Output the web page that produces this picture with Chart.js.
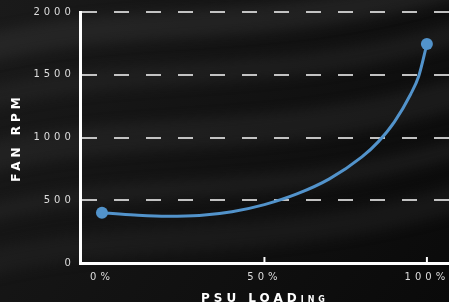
<!DOCTYPE html>
<html>
<head>
<meta charset="utf-8">
<script src="https://cdn.jsdelivr.net/npm/chart.js@4/dist/chart.umd.min.js"></script>
<style>
html, body { margin: 0; padding: 0; background: #111; }
#wrap { width: 449px; height: 302px; position: relative; }
</style>
</head>
<body>
<div id="wrap"><canvas id="myChart"></canvas></div>
<script>
// PSU load (%) vs fan speed (rpm)
var loadPct = [0, 10, 20, 30, 40, 50, 60, 70, 80, 85, 90, 95, 97.5, 100];
var fanRpm = [400, 382, 372, 378, 408, 465, 550, 670, 845, 965, 1125, 1345, 1490, 1745];
var rpmTicks = [0, 500, 1000, 1500, 2000];
var loadTicks = [0, 50, 100];

var lineColor = "#5293cb";
var fontFamily = "'DejaVu Sans', sans-serif";

// dark silky background
var bgPlugin = {
    id: "bg",
    beforeDraw: function(chart){
        var ctx = chart.ctx;
        var w = chart.width, h = chart.height;
        ctx.save();
        var g = ctx.createLinearGradient(0, 0, w, h);
        g.addColorStop(0, "#1a1a1a");
        g.addColorStop(0.5, "#121212");
        g.addColorStop(1, "#0a0a0a");
        ctx.fillStyle = g;
        ctx.fillRect(0, 0, w, h);
        ctx.filter = "blur(6px)";
        ctx.lineCap = "round";
        var bands = [[20, 28, "rgba(60,60,60,0.35)"], [70, 22, "rgba(45,45,45,0.4)"], [130, 30, "rgba(55,55,55,0.3)"],
                     [185, 18, "rgba(50,50,50,0.35)"], [235, 26, "rgba(40,40,40,0.4)"]];
        bands.forEach(function(b){
            ctx.strokeStyle = b[2];
            ctx.lineWidth = b[1];
            ctx.beginPath();
            ctx.moveTo(-20, b[0] + 30);
            ctx.bezierCurveTo(w * 0.3, b[0] - 10, w * 0.6, b[0] + 20, w + 20, b[0] - 40);
            ctx.stroke();
        });
        ctx.restore();
        ctx.letterSpacing = "4px";
    },
    beforeLayout: function(chart){
        chart.ctx.letterSpacing = "4px";
    }
};

// small upward tick marks on the x axis
var xTickPlugin = {
    id: "xTicks",
    afterDraw: function(chart){
        var xs = chart.scales.x;
        var ctx = chart.ctx;
        var base = chart.chartArea.bottom;
        ctx.save();
        ctx.strokeStyle = "#ffffff";
        ctx.lineWidth = 2;
        loadTicks.forEach(function(v){
            if (v === 0) return;
            var px = xs.getPixelForValue(v);
            ctx.beginPath();
            ctx.moveTo(px, base);
            ctx.lineTo(px, base - 6);
            ctx.stroke();
        });
        ctx.restore();
    }
};

function showChart(){
    var points = loadPct.map(function(v, i){ return { x: v, y: fanRpm[i] }; });
    var radii = loadPct.map(function(v, i){ return (i === 0 || i === loadPct.length - 1) ? 6 : 0; });

    new Chart("myChart", {
        type: "line",
        data: {
            datasets: [{
                data: points,
                borderColor: lineColor,
                backgroundColor: lineColor,
                borderWidth: 3,
                pointRadius: radii,
                pointHoverRadius: radii,
                pointBorderWidth: 0,
                cubicInterpolationMode: "monotone",
                clip: false
            }]
        },
        options: {
            responsive: true,
            maintainAspectRatio: false,
            animation: false,
            events: [],
            layout: { autoPadding: false, padding: { left: 10, top: 6, right: 0, bottom: -3 } },
            plugins: {
                legend: { display: false },
                tooltip: { enabled: false }
            },
            scales: {
                x: {
                    type: "linear",
                    min: -6.5,
                    max: 106.8,
                    afterBuildTicks: function(scale){
                        scale.ticks = loadTicks.map(function(v){ return { value: v }; });
                    },
                    afterFit: function(scale){
                        scale.paddingRight = 0;
                        scale.paddingLeft = 0;
                    },
                    grid: { display: false, drawTicks: false },
                    border: { display: true, color: "#ffffff", width: 3 },
                    ticks: {
                        color: "#dddddd",
                        font: { family: fontFamily, size: 10 },
                        padding: 8,
                        maxRotation: 0,
                        callback: function(v){ return v + "%"; }
                    },
                    title: {
                        display: true,
                        text: "PSU LOADing",
                        color: "#ffffff",
                        font: { family: fontFamily, size: 12, weight: "small-caps bold", lineHeight: 1 },
                        padding: { top: 2, bottom: 0 }
                    }
                },
                y: {
                    min: 0,
                    max: 2000,
                    afterBuildTicks: function(scale){
                        scale.ticks = rpmTicks.map(function(v){ return { value: v }; });
                    },
                    grid: {
                        color: "rgba(225,225,225,0.85)",
                        lineWidth: 2,
                        drawTicks: false
                    },
                    border: { display: true, color: "#ffffff", width: 3, dash: [15, 17] },
                    ticks: {
                        color: "#dddddd",
                        font: { family: fontFamily, size: 10 },
                        padding: 6,
                        callback: function(v){ return String(v); }
                    },
                    title: {
                        display: true,
                        text: "FAN RPM",
                        color: "#ffffff",
                        font: { family: fontFamily, size: 12, weight: "bold" },
                        padding: { top: 0, bottom: 3 }
                    }
                }
            }
        },
        plugins: [bgPlugin, xTickPlugin]
    });
}

function loadItems(){
    showChart();
}

window.addEventListener("load", loadItems);
</script>
</body>
</html>
